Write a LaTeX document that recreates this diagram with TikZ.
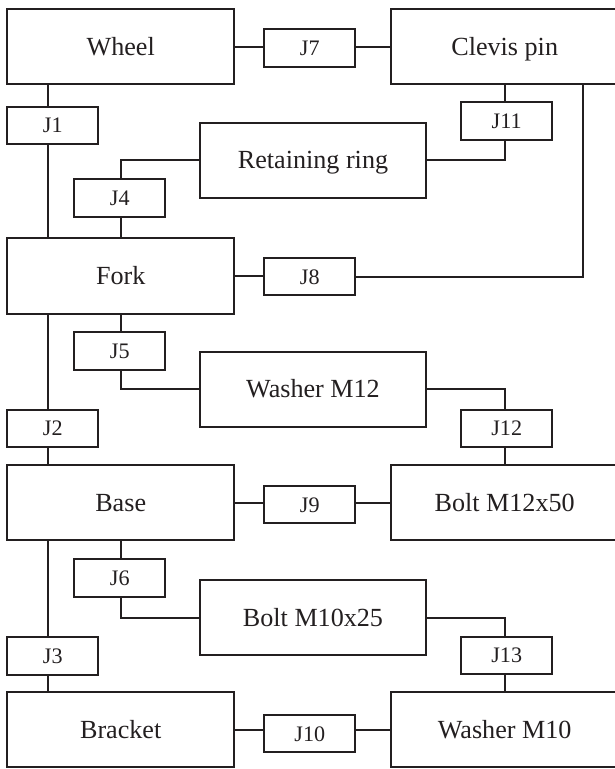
\documentclass[tikz,border=0pt]{standalone}
\usepackage{fontspec}
\setmainfont{Liberation Serif}
\definecolor{ink}{HTML}{231F20}
\begin{document}
\begin{tikzpicture}[x=0.75pt,y=-0.75pt,
  line width=1.5pt, draw=ink,
  part/.style={draw=ink, rectangle, inner sep=0pt, minimum width=170pt, minimum height=56.5pt,
    text=ink, font=\fontsize{19.6}{22}\selectfont, text height=12.9pt, text depth=0pt},
  joint/.style={draw=ink, rectangle, inner sep=0pt, minimum width=68.5pt, minimum height=28.1pt,
    text=ink, font=\fontsize{16.6}{19}\selectfont, text height=11pt, text depth=0pt},
  link/.style={draw=ink, line width=1.5pt}]
\useasboundingbox (0,0) rectangle (615,769);
\clip (0,0) rectangle (615,769);
% parts, left column
\node[part] (wheel)   at (120.7,46.7)  {Wheel};
\node[part] (fork)    at (120.7,276)   {Fork};
\node[part] (base)    at (120.7,502.8) {Base};
\node[part] (bracket) at (120.7,729.5) {Bracket};
% parts, right column
\node[part] (clevis)  at (504.7,46.7)  {Clevis pin};
\node[part] (boltA)   at (504.7,502.8) {Bolt M12x50};
\node[part] (washerB) at (504.7,729.5) {Washer M10};
% parts, middle column
\node[part] (ring)    at (313,160.3)   {Retaining ring};
\node[part] (washerA) at (313,389.2)   {Washer M12};
\node[part] (boltB)   at (313,617.8)   {Bolt M10x25};
% joints
\node[joint] (j1)  at (52.8,125.3)  {J1};
\node[joint] (j2)  at (52.8,428.3)  {J2};
\node[joint] (j3)  at (52.8,655.8)  {J3};
\node[joint] (j4)  at (119.8,197.8) {J4};
\node[joint] (j5)  at (119.8,351.2) {J5};
\node[joint] (j6)  at (119.8,577.8) {J6};
\node[joint] (j7)  at (309.8,48)    {J7};
\node[joint] (j8)  at (309.8,276.7) {J8};
\node[joint] (j9)  at (309.8,504.7) {J9};
\node[joint] (j10) at (309.8,733.7) {J10};
\node[joint] (j11) at (506.7,121.2) {J11};
\node[joint] (j12) at (506.7,428.3) {J12};
\node[joint] (j13) at (506.7,655.5) {J13};
% helper coordinates
\coordinate (spA) at (47.8,0);
\coordinate (spB) at (48.3,0);
\coordinate (mid) at (120.7,0);
\coordinate (rgt) at (505,0);
\coordinate (cv)  at (582.7,84);
% spine
\draw[link] (wheel.south -| spA) -- (j1.north -| spA);
\draw[link] (j1.south -| spA) -- (fork.north -| spA);
\draw[link] (fork.south -| spB) -- (j2.north -| spB);
\draw[link] (j2.south -| spB) -- (base.north -| spB);
\draw[link] (base.south -| spB) -- (j3.north -| spB);
\draw[link] (j3.south -| spB) -- (bracket.north -| spB);
% horizontal pairs
\draw[link] (wheel.east) -- (wheel.east -| j7.west);
\draw[link] (j7.east |- clevis.west) -- (clevis.west);
\draw[link] (fork.east) -- (fork.east -| j8.west);
\draw[link] (j8.east) -- (j8.east -| cv) -- (cv);
\draw[link] (base.east) -- (base.east -| j9.west);
\draw[link] (j9.east |- boltA.west) -- (boltA.west);
\draw[link] (bracket.east) -- (bracket.east -| j10.west);
\draw[link] (j10.east |- washerB.west) -- (washerB.west);
% middle branches
\draw[link] (fork.north -| mid) -- (j4.south -| mid);
\draw[link] (j4.north -| mid) |- (ring.west);
\draw[link] (fork.south -| mid) -- (j5.north -| mid);
\draw[link] (j5.south -| mid) |- (washerA.west);
\draw[link] (base.south -| mid) -- (j6.north -| mid);
\draw[link] (j6.south -| mid) |- (boltB.west);
% right branches
\draw[link] (clevis.south -| rgt) -- (j11.north -| rgt);
\draw[link] (j11.south -| rgt) |- (ring.east);
\draw[link] (washerA.east) -| (j12.north -| rgt);
\draw[link] (j12.south -| rgt) -- (boltA.north -| rgt);
\draw[link] (boltB.east) -| (j13.north -| rgt);
\draw[link] (j13.south -| rgt) -- (washerB.north -| rgt);
\end{tikzpicture}
\end{document}
